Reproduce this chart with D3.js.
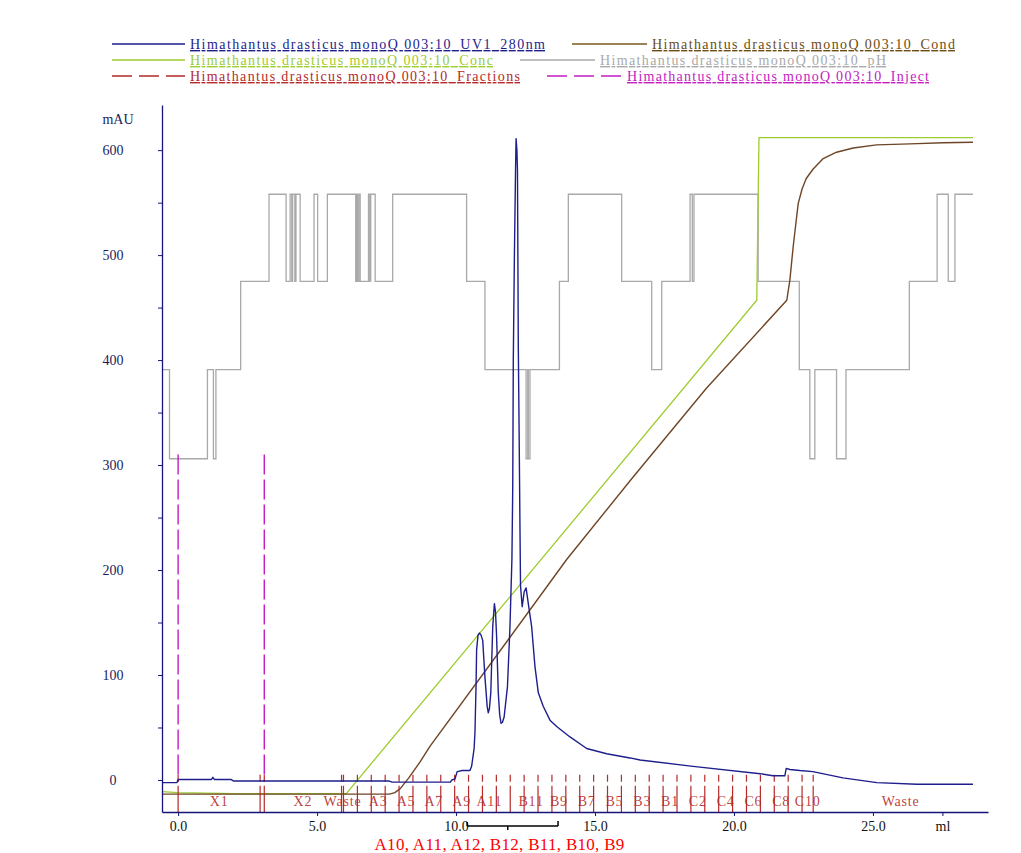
<!DOCTYPE html>
<html><head><meta charset="utf-8">
<script src="https://cdn.jsdelivr.net/npm/d3@7/dist/d3.min.js"></script>
<style>
html,body{margin:0;padding:0;background:#fff;}
svg{display:block;}
text{font-family:"Liberation Serif","Times New Roman",serif;}
</style></head><body>
<svg id="chart" width="1021" height="853"></svg>
<script>
// ---------------- DATA ----------------
const seriesNames = [
  "Himathantus drasticus monoQ 003:10_UV1_280nm",
  "Himathantus drasticus monoQ 003:10_Cond",
  "Himathantus drasticus monoQ 003:10_Conc",
  "Himathantus drasticus monoQ 003:10_pH",
  "Himathantus drasticus monoQ 003:10_Fractions",
  "Himathantus drasticus monoQ 003:10_Inject"
];

// UV1_280nm (ml, mAU)
const uvVolume = [-0.58,-0.04,0.0,1.2,1.25,1.3,1.9,2.0,7.6,7.7,9.8,9.85,9.96,10.04,10.22,10.5,10.56,10.65,10.68,10.72,10.74,10.79,10.84,10.9,10.96,11.0,11.04,11.12,11.16,11.2,11.25,11.32,11.38,11.42,11.46,11.52,11.57,11.62,11.67,11.73,11.85,11.94,12.01,12.04,12.06,12.1,12.14,12.16,12.19,12.21,12.24,12.27,12.3,12.32,12.38,12.45,12.52,12.6,12.72,12.84,12.96,13.14,13.38,13.62,14.1,14.7,15.42,16.26,16.62,18.53,20.94,21.4,21.83,21.88,22.01,22.37,22.84,23.92,25.14,26.58,28.6];
const uvAbs    = [-2.5,-2.5,0.5,0.5,2.5,0.5,0.5,-1,-1,-2,-2,0,1,8,9,9,13,30,45,90,124,138,140,138,133,115,98,70,64,68,83,146,168,160,136,83,62,54,55,60,89,146,210,279,400,500,580,611,600,581,413,330,240,185,165,179,183,168,146,108,83,70,57,51,41,30,25,21,19,13,6,4,4,11,10,9,8,2,-2.5,-4,-4];

// Conc (%B, shown on the same axis)
const concVolume = [-0.58,0.0,2.0,6.05,20.82,20.9,28.6];
const concValue  = [-11,-12,-13,-13,457,612,612];

// Cond
const condVolume = [-0.58,7.6,7.8,8.0,8.3,8.7,9.06,11.5,13.98,16.32,19.0,21.9,22.01,22.13,22.31,22.45,22.6,22.85,23.21,23.69,24.29,25.13,26.33,27.52,28.6];
const condValue  = [-13.5,-13.5,-12,-8,2,17,32,120,210,287,373,457,476,508,549,563,573,582,592,598,602,605,606,607,607.5];

// pH (step starts)
const phVolume = [-0.58,-0.31,1.055,1.27,1.36,2.25,3.27,3.885,4.03,4.09,4.12,4.2,4.24,4.39,4.89,5.02,5.37,6.39,6.42,6.45,6.5,6.55,6.85,6.9,6.93,7.09,7.72,10.38,11.04,12.52,12.58,12.6,12.66,13.72,14.04,15.96,17.04,17.4,18.42,18.5,18.56,20.87,22.35,22.73,22.91,23.69,24.03,26.31,27.31,27.71,27.95,28.6];
const phValue  = [391,306,391,306,391,475,558,475,558,475,558,475,558,475,558,475,558,475,558,475,558,475,558,475,558,475,558,475,391,306,391,306,391,475,558,475,391,475,558,475,558,475,391,306,391,306,391,475,558,475,558,558];

// Fractions
const fractionNames  = ["X1","Waste","X2","Waste","A1","A2","A3","A4","A5","A6","A7","A8","A9","A10","A11","A12","B12","B11","B10","B9","B8","B7","B6","B5","B4","B3","B2","B1","C1","C2","C3","C4","C5","C6","C7","C8","C9","C10","Waste"];
const fractionStarts = [0.0,2.95,3.1,5.88,5.95,6.45,6.95,7.45,7.95,8.45,8.95,9.45,9.95,10.45,10.95,11.45,11.95,12.45,12.95,13.45,13.95,14.45,14.95,15.45,15.95,16.45,16.95,17.45,17.95,18.45,18.95,19.45,19.95,20.45,20.95,21.45,21.95,22.45,22.85];
const fractionLabelled = [true,false,true,true,false,false,true,false,true,false,true,false,true,false,true,false,false,true,false,true,false,true,false,true,false,true,false,true,false,true,false,true,false,true,false,true,false,true,true];
const runEnd = 29.14;

// Injections
const injectVolumes = [0.0,3.1];
const injectHeight = 310;

// Axis ticks
const yTickValues = [0,50,100,150,200,250,300,350,400,450,500,550,600];
const xTickValues = [0,5,10,15,20,25,27.5];
const xUnit = "ml";
const yUnit = "mAU";

// Annotation
const pooledText = "A10, A11, A12, B12, B11, B10, B9";
const bracketFrom = 10.4, bracketMid = 11.86, bracketTo = 13.67;

// ---------------- STYLES ----------------
const colors = {
  uv:"#1e1e8c", cond:"#6e4526", conc:"#9ccc2e", ph:"#a9a9a9",
  frac:"#b52a2a", inject:"#c21cc2", axis:"#14147a"
};
const legendColors = ["#1e1e8c","#7a5a20","#9ccc2e","#a9a9a9","#b52a2a","#c21cc2"];
const legendTextColors = ["#1e1e8c","#6b4c14","#9ccc2e","#a9a9a9","#b52a2a","#c21cc2"];
const legendDash = [null,null,null,null,"20,7","20,7"];
const legendTextLen = [355,303,303,286,330,302];

// ---------------- CHART ----------------
const svg = d3.select("#chart");
svg.append("rect").attr("width",1021).attr("height",853).attr("fill","#fff");

const x = d3.scaleLinear().domain([-0.58, runEnd]).range([162, 988]);
const y = d3.scaleLinear().domain([-30.5, 643]).range([812, 105]);

const zip = (a,b)=>a.map((v,i)=>[v,b[i]]);
const line = d3.line().x(d=>x(d[0])).y(d=>y(d[1]));
const stepLine = d3.line().x(d=>x(d[0])).y(d=>y(d[1])).curve(d3.curveStepAfter);

// pH
svg.append("path").attr("d", stepLine(zip(phVolume,phValue)))
  .attr("fill","none").attr("stroke",colors.ph).attr("stroke-width",1.3);

// Conc
svg.append("path").attr("d", line(zip(concVolume,concValue)))
  .attr("fill","none").attr("stroke",colors.conc).attr("stroke-width",1.3);

// Cond
svg.append("path").attr("d", line(zip(condVolume,condValue)))
  .attr("fill","none").attr("stroke",colors.cond).attr("stroke-width",1.4).attr("stroke-linejoin","round");

// Injections
svg.append("g").selectAll("line").data(injectVolumes).join("line")
  .attr("x1",d=>x(d)).attr("x2",d=>x(d))
  .attr("y1",y(injectHeight)).attr("y2",y(-2))
  .attr("stroke",colors.inject).attr("stroke-width",1.4).attr("stroke-dasharray","20,5");

// Fractions
const fracG = svg.append("g");
fracG.selectAll("line").data(fractionStarts).join("line")
  .attr("x1",d=>x(d)).attr("x2",d=>x(d))
  .attr("y1",y(5)).attr("y2",y(-30.5))
  .attr("stroke",colors.frac).attr("stroke-width",1.2).attr("stroke-dasharray","7,4,60");
fracG.selectAll("text").data(fractionNames.map((n,i)=>({n,i})).filter(d=>fractionLabelled[d.i])).join("text")
  .attr("x",d=>{const s=fractionStarts[d.i]; const e=d.i+1<fractionStarts.length?fractionStarts[d.i+1]:runEnd; return x((s+e)/2);})
  .attr("y",806).attr("text-anchor","middle")
  .attr("font-size",14).attr("letter-spacing",0.8).attr("fill",colors.frac).attr("fill-opacity",0.9)
  .text(d=>d.n);

// UV
svg.append("path").attr("d", line(zip(uvVolume,uvAbs)))
  .attr("fill","none").attr("stroke",colors.uv).attr("stroke-width",1.4).attr("stroke-linejoin","round");

// Axes
const yAxis = d3.axisLeft(y).tickValues(yTickValues).tickSize(4).tickSizeOuter(0)
  .tickFormat(d=> d%100===0 ? d3.format("d")(d) : "");
const gy = svg.append("g").attr("transform","translate(162,0)").call(yAxis);
gy.select(".domain").attr("stroke",colors.axis).attr("stroke-width",1.3);
gy.selectAll(".tick line").attr("stroke",colors.axis);
gy.selectAll(".tick text").attr("x",-49).attr("text-anchor","middle")
  .attr("font-family","Liberation Serif, serif").attr("font-size",14).attr("fill","#1c1c5c");

const xAxis = d3.axisBottom(x).tickValues(xTickValues).tickSize(4).tickSizeOuter(0)
  .tickFormat(d=> d===27.5 ? xUnit : d3.format(".1f")(d));
const gx = svg.append("g").attr("transform","translate(0,812)").call(xAxis);
gx.select(".domain").attr("stroke",colors.axis).attr("stroke-width",1.3);
gx.selectAll(".tick line").attr("stroke",colors.axis);
gx.selectAll(".tick text").attr("y",9)
  .attr("font-family","Liberation Serif, serif").attr("font-size",14).attr("fill","#111");

svg.append("text").attr("x",118).attr("y",124).attr("text-anchor","middle")
  .attr("font-size",14).attr("fill","#1c1c5c").text(yUnit);

// Bracket annotation
const br = svg.append("g").attr("stroke","#000").attr("stroke-width",1.5);
br.append("line").attr("x1",x(bracketFrom)).attr("x2",x(bracketTo)).attr("y1",826).attr("y2",826);
br.append("line").attr("x1",x(bracketFrom)).attr("x2",x(bracketFrom)).attr("y1",822).attr("y2",826);
br.append("line").attr("x1",x(bracketTo)).attr("x2",x(bracketTo)).attr("y1",821).attr("y2",826);
br.append("line").attr("x1",x(bracketMid)).attr("x2",x(bracketMid)).attr("y1",826).attr("y2",830);
svg.append("text").attr("x",x((bracketFrom+bracketTo)/2)-13).attr("y",849.5).attr("text-anchor","middle")
  .attr("font-size",17).attr("letter-spacing",0.3).attr("fill","#ff0000").text(pooledText);

// Legend
const lg = svg.append("g");
let rowEnd = 0;
seriesNames.forEach((name,i)=>{
  const row = Math.floor(i/2), col = i%2;
  const cy = 44 + row*16;
  const lx = col===0 ? 112 : rowEnd + 27;
  const lineLen = col===0 ? 73 : 75;
  lg.append("line").attr("x1",lx).attr("x2",lx+lineLen).attr("y1",cy).attr("y2",cy)
    .attr("stroke",legendColors[i]).attr("stroke-width",1.4)
    .attr("stroke-dasharray",legendDash[i]);
  const tx = lx + lineLen + 5;
  lg.append("text").attr("x",tx).attr("y",cy+5).attr("font-size",14)
    .attr("fill",legendTextColors[i]).attr("text-decoration","underline")
    .attr("textLength",legendTextLen[i]).attr("lengthAdjust","spacing")
    .text(name);
  if(col===0) rowEnd = tx + legendTextLen[i];
});
</script>
</body></html>
